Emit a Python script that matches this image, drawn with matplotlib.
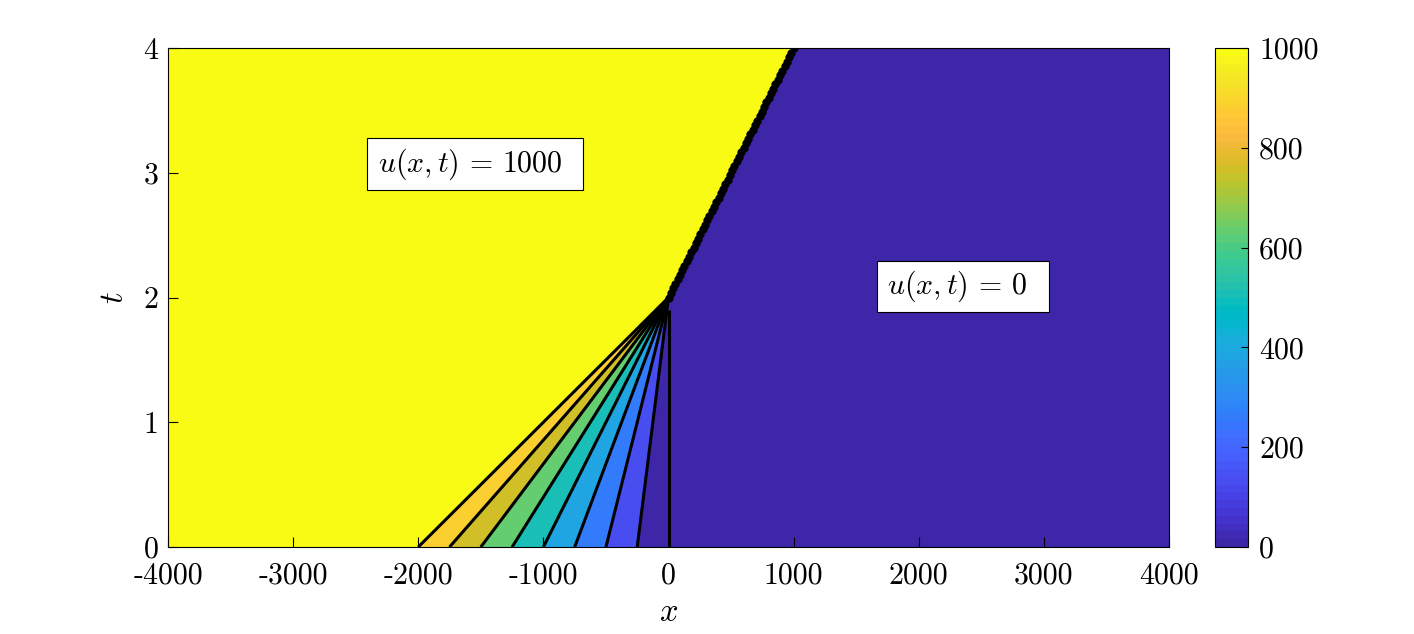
import numpy as np
import matplotlib
matplotlib.use("Agg")
import matplotlib.pyplot as plt
from matplotlib.colors import ListedColormap, Normalize
from matplotlib.cm import ScalarMappable
from matplotlib.patches import Rectangle
from matplotlib.transforms import IdentityTransform

# ---- data ----
fan_starts = [-2000, -1750, -1500, -1250, -1000, -750, -500, -250, 0]   # x at t=0 of characteristics
band_values = [875, 750, 625, 500, 375, 250, 125, 0]                     # u in fan bands
left_value = 1000
right_value = 0
apex = (0, 2)                 # point where characteristics meet
shock_end = (1000, 4)         # end of shock at t = 4
xticks = [-4000, -3000, -2000, -1000, 0, 1000, 2000, 3000, 4000]
xtick_labels = ["-4000", "-3000", "-2000", "-1000", "0", "1000", "2000", "3000", "4000"]
yticks = [0, 1, 2, 3, 4]
ctick = [0, 200, 400, 600, 800, 1000]

parula_data = [
 [0.2422,0.1504,0.6603],[0.2504,0.1650,0.7076],[0.2578,0.1818,0.7511],[0.2647,0.1978,0.7952],
 [0.2706,0.2147,0.8364],[0.2751,0.2342,0.8710],[0.2783,0.2559,0.8991],[0.2803,0.2782,0.9221],
 [0.2813,0.3006,0.9414],[0.2810,0.3228,0.9579],[0.2795,0.3447,0.9717],[0.2760,0.3667,0.9829],
 [0.2699,0.3892,0.9906],[0.2602,0.4123,0.9952],[0.2440,0.4358,0.9988],[0.2206,0.4603,0.9973],
 [0.1963,0.4847,0.9892],[0.1834,0.5074,0.9798],[0.1786,0.5289,0.9682],[0.1764,0.5499,0.9520],
 [0.1687,0.5703,0.9359],[0.1540,0.5902,0.9218],[0.1460,0.6091,0.9079],[0.1380,0.6276,0.8973],
 [0.1248,0.6459,0.8883],[0.1113,0.6635,0.8763],[0.0952,0.6798,0.8598],[0.0689,0.6948,0.8394],
 [0.0297,0.7082,0.8163],[0.0036,0.7203,0.7917],[0.0067,0.7312,0.7660],[0.0433,0.7411,0.7394],
 [0.0964,0.7500,0.7120],[0.1408,0.7584,0.6842],[0.1717,0.7670,0.6554],[0.1938,0.7758,0.6251],
 [0.2161,0.7843,0.5923],[0.2470,0.7918,0.5567],[0.2906,0.7973,0.5188],[0.3406,0.8008,0.4789],
 [0.3909,0.8029,0.4354],[0.4456,0.8024,0.3909],[0.5044,0.7993,0.3480],[0.5616,0.7942,0.3045],
 [0.6174,0.7876,0.2612],[0.6720,0.7793,0.2227],[0.7242,0.7698,0.1910],[0.7738,0.7598,0.1646],
 [0.8203,0.7498,0.1535],[0.8634,0.7406,0.1596],[0.9035,0.7330,0.1774],[0.9393,0.7288,0.2100],
 [0.9728,0.7298,0.2394],[0.9956,0.7434,0.2371],[0.9970,0.7659,0.2199],[0.9952,0.7893,0.2028],
 [0.9892,0.8136,0.1885],[0.9786,0.8386,0.1766],[0.9676,0.8639,0.1643],[0.9610,0.8890,0.1537],
 [0.9597,0.9135,0.1423],[0.9628,0.9373,0.1265],[0.9691,0.9606,0.1064],[0.9769,0.9839,0.0805]]
cmap = ListedColormap(parula_data, name="parula")
norm = Normalize(0, 1000)

plt.rcParams['mathtext.fontset'] = 'cm'
plt.rcParams['font.family'] = 'cmr10'
plt.rcParams['axes.unicode_minus'] = False
FS = 21.5

fig = plt.figure(figsize=(14.14, 6.34), dpi=100)
ax = fig.add_axes([168/1414, 87/634, 1001/1414, 499/634])
cax = fig.add_axes([1215/1414, 87/634, 33/1414, 499/634])

xmin, xmax, tmin, tmax = xticks[0], xticks[-1], yticks[0], yticks[-1]

# left (u=1000) region
ax.fill([xmin, fan_starts[0], apex[0], shock_end[0], xmin],
        [tmin, tmin, apex[1], shock_end[1], tmax],
        color=cmap(norm(left_value)), lw=0, zorder=0.2)
# right (u=0) region
ax.fill([fan_starts[-1], xmax, xmax, shock_end[0], apex[0]],
        [tmin, tmin, tmax, shock_end[1], apex[1]],
        color=cmap(norm(right_value)), lw=0, zorder=0.2)
# fan bands
for k, v in enumerate(band_values):
    ax.fill([fan_starts[k], fan_starts[k+1], apex[0]],
            [tmin, tmin, apex[1]], color=cmap(norm(v)), lw=0, zorder=0.2)
# characteristics
for x0 in fan_starts:
    ax.plot([x0, apex[0]], [tmin, apex[1] - 0.1 * (x0 == 0)], color='k', lw=2.2,
            solid_capstyle='butt', zorder=2)
# shock as dotted line of markers
ts = np.linspace(apex[1], shock_end[1], 56)
xs = apex[0] + (shock_end[0] - apex[0]) * (ts - apex[1]) / (shock_end[1] - apex[1])
ax.plot(xs, ts, 'o', color='k', ms=6, mew=0, zorder=2)

ax.set_xlim(xmin, xmax)
ax.set_ylim(tmin, tmax)
ax.set_xticks(xticks, labels=xtick_labels)
ax.set_yticks(yticks, labels=[str(v) for v in yticks])
ax.tick_params(direction='in', top=False, right=False, length=7, width=0.8,
               labelsize=FS)
ax.tick_params(axis='x', pad=11)
ax.tick_params(axis='y', pad=7)
for s in ax.spines.values():
    s.set_linewidth(0.8)
ax.set_xlabel(r'$x$', fontsize=FS + 2, labelpad=6)
ax.set_ylabel(r'$t$', fontsize=FS + 2, labelpad=10, rotation=90)

t1 = ax.text(-2322, 3.07, r'$u(x,t)\,=\,1000$', fontsize=FS, va='center', ha='left', zorder=5)
t2 = ax.text(1746, 2.09, r'$u(x,t)\,=\,0$', fontsize=FS, va='center', ha='left', zorder=5)

sm = ScalarMappable(norm=norm, cmap=cmap)
cb = fig.colorbar(sm, cax=cax)
cb.set_ticks(ctick, labels=[str(v) for v in ctick])
cax.tick_params(direction='in', length=5, width=0.8, labelsize=FS, pad=8)
cb.outline.set_linewidth(0.8)

# white label boxes with MATLAB-like asymmetric padding
fig.canvas.draw()
renderer = fig.canvas.get_renderer()
for txt, (pl, pr, pv) in [(t1, (11, 21, 8)), (t2, (10, 22, 8))]:
    bb = txt.get_window_extent(renderer)
    rect = Rectangle((bb.x0 - pl, bb.y0 - pv), bb.width + pl + pr, bb.height + 2 * pv,
                     transform=IdentityTransform(), fc='white', ec='black', lw=0.8,
                     zorder=4)
    ax.add_artist(rect)

fig.savefig('out.png', dpi=100)
